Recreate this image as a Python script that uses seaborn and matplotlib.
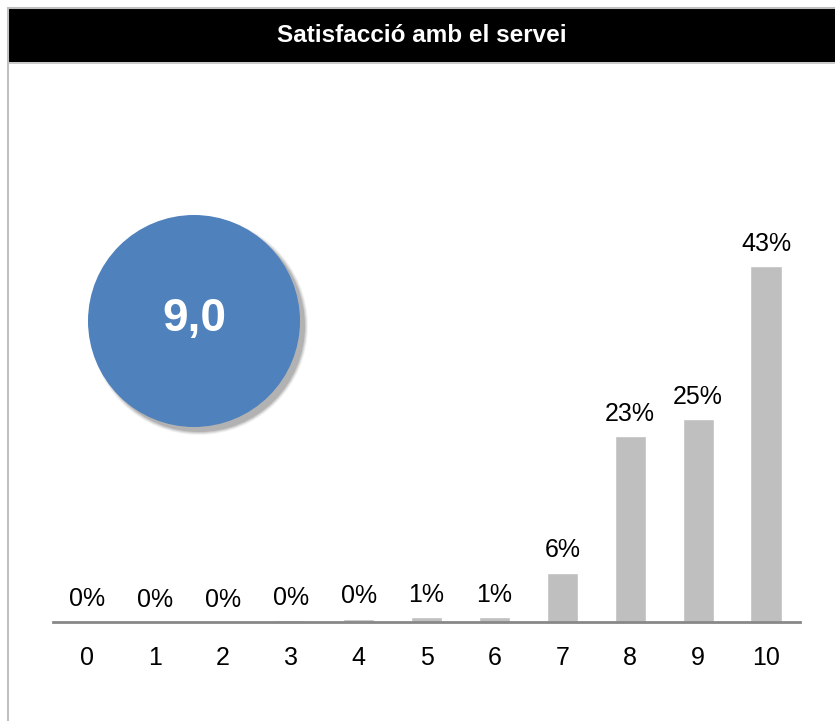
import matplotlib
matplotlib.use("Agg")
import matplotlib.pyplot as plt
import seaborn as sns
import pandas as pd
from matplotlib.patches import Circle, Rectangle

# scores and share of answers (%)
scores = ["0", "1", "2", "3", "4", "5", "6", "7", "8", "9", "10"]
shares = [0.1, 0.0, 0.0, 0.2, 0.4, 0.6, 0.6, 6.0, 22.6, 24.6, 43.2]
title = "Satisfacció amb el servei"
mean_score = "9,0"

df = pd.DataFrame({"score": scores, "share": shares})

sns.set_style("white")
plt.rcParams["font.family"] = ["Liberation Sans", "DejaVu Sans"]

W, H = 835, 721
fig = plt.figure(figsize=(W / 100, H / 100), dpi=100)

# background layer in pixel coords for frame, header and circle
bg = fig.add_axes([0, 0, 1, 1])
bg.set_xlim(0, W)
bg.set_ylim(H, 0)
bg.axis("off")
bg.add_patch(Rectangle((8, 8), W - 8, 54, facecolor="black", edgecolor="none"))
bg.plot([8, 8], [8, H], color="#c0c0c0", lw=1.5)
bg.plot([8, W], [8, 8], color="#c0c0c0", lw=1.5)
bg.plot([8, W], [62.5, 62.5], color="#c0c0c0", lw=1.2)
bg.text((8 + W) / 2, 36, title, color="white", fontsize=17.5, fontweight="bold",
        ha="center", va="center")

# circle with soft shadow
cx, cy, r = 194, 321, 106
for i, a in enumerate([0.05, 0.07, 0.09, 0.12]):
    bg.add_patch(Circle((cx + 5, cy + 5), r + 3 - i, facecolor="black", alpha=a,
                        edgecolor="none"))
bg.add_patch(Circle((cx, cy), r, facecolor="#4F81BD", edgecolor="none"))
bg.text(cx, cy - 2, mean_score, color="white", fontsize=33, fontweight="bold",
        ha="center", va="center")

# bar chart
ax = fig.add_axes([53 / W, (H - 622) / H, (800 - 53) / W, 411.6 / H])
ax.patch.set_alpha(0)
sns.barplot(data=df, x="score", y="share", order=scores, color="#BFBFBF",
            width=0.46, saturation=1, ax=ax)
ax.set_xlim(-0.5, 10.5)
ax.set_ylim(0, 50)
for i, v in enumerate(shares):
    ax.annotate(f"{v:.0f}%", (i, v), xytext=(0, 11), textcoords="offset points",
                ha="center", va="baseline", fontsize=18, color="black")

ax.set_xlabel("")
ax.set_ylabel("")
ax.set_yticks([])
ax.tick_params(axis="x", length=0, pad=17, labelsize=18, labelcolor="black")
for s in ["top", "right", "left"]:
    ax.spines[s].set_visible(False)
ax.spines["bottom"].set_color("#888888")
ax.spines["bottom"].set_linewidth(2)

fig.savefig("out.png", dpi=100)
